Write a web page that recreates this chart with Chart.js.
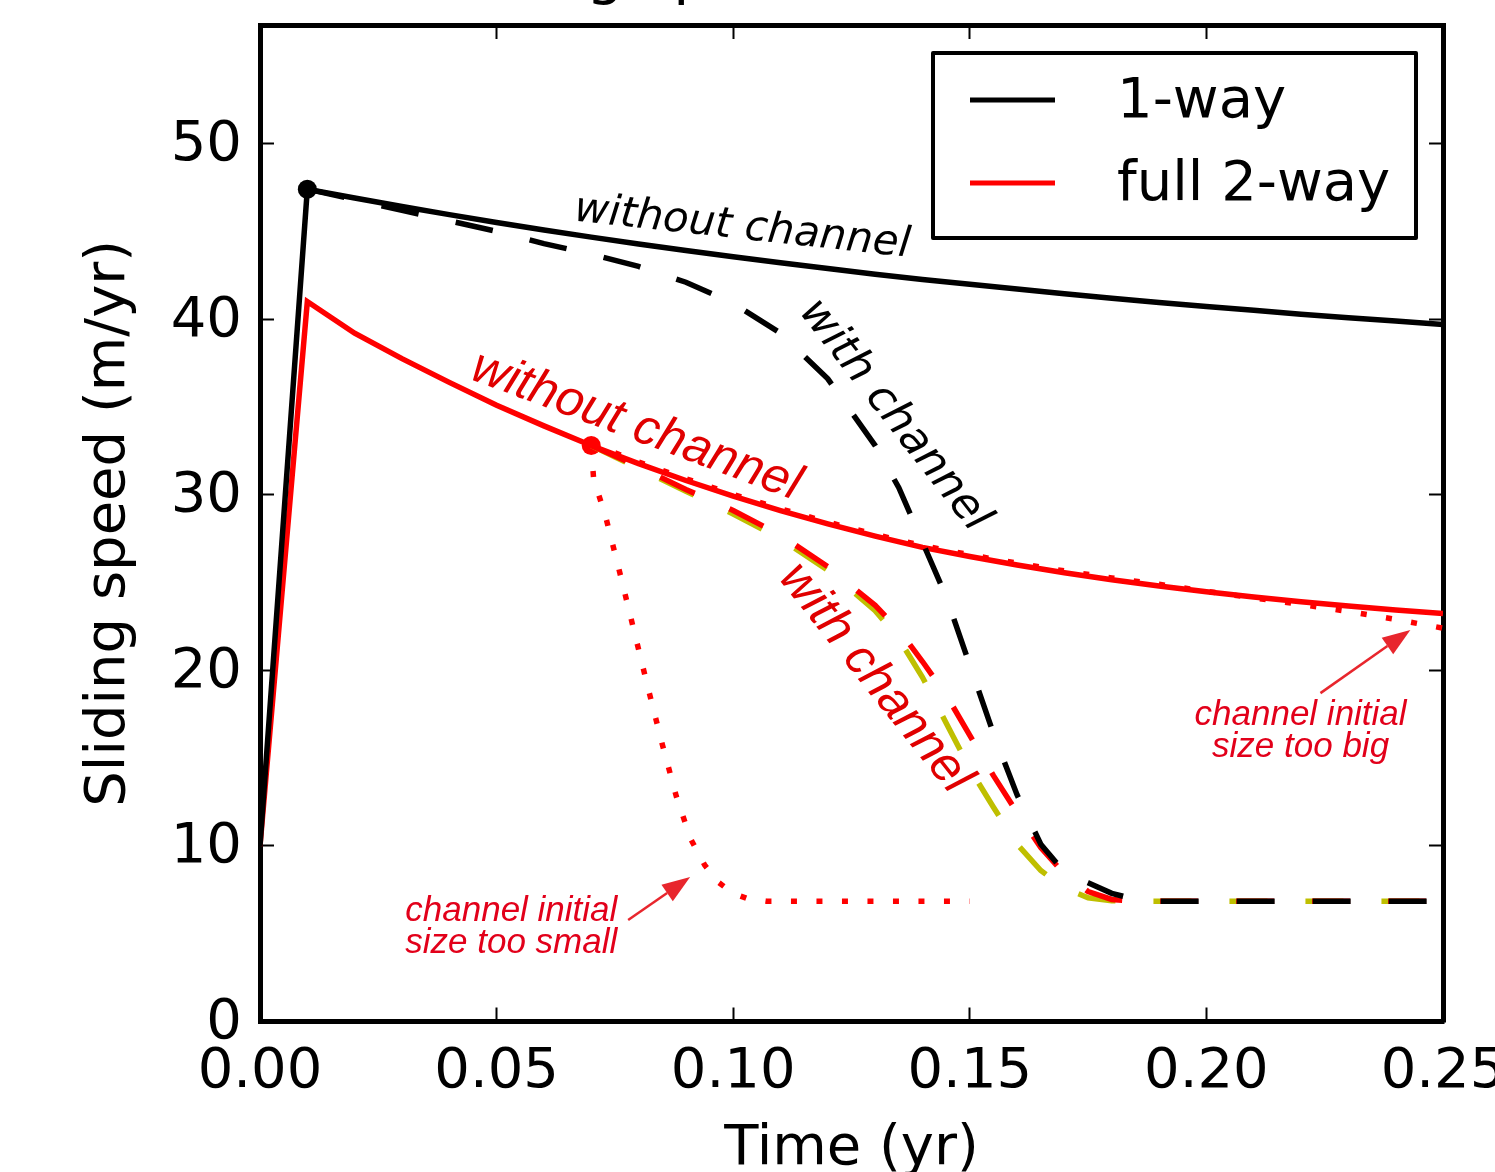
<!DOCTYPE html>
<html>
<head>
<meta charset="utf-8">
<title>Sliding speed</title>
<script src="https://cdn.jsdelivr.net/npm/chart.js@4.4.1/dist/chart.umd.min.js"></script>
<style>
    html, body { margin: 0; padding: 0; background: #fff; }
    canvas { display: block; }
</style>
</head>
<body>
<canvas id="speed-chart" width="1495" height="1172"></canvas>
<script>
// axis ticks
const xTicks = [0, 0.05, 0.10, 0.15, 0.20, 0.25];
const yTicks = [0, 10, 20, 30, 40, 50];

// 1-way, without channel (black solid)
const oneWayT = [0, 0.01, 0.02, 0.03, 0.04, 0.05, 0.06, 0.07, 0.08, 0.09, 0.10, 0.11, 0.12, 0.13, 0.14, 0.15, 0.16, 0.17, 0.18, 0.19, 0.20, 0.21, 0.22, 0.23, 0.24, 0.25];
const oneWayV = [10, 47.4, 46.9, 46.41, 45.95, 45.5, 45.08, 44.67, 44.28, 43.91, 43.55, 43.21, 42.88, 42.56, 42.26, 41.98, 41.71, 41.44, 41.19, 40.95, 40.72, 40.5, 40.28, 40.08, 39.89, 39.7];

// 1-way, with channel (black dashed)
const oneWayChT = [0.01, 0.02, 0.03, 0.04, 0.05, 0.06, 0.07, 0.08, 0.09, 0.10, 0.11, 0.12, 0.13, 0.135, 0.14, 0.145, 0.15, 0.155, 0.16, 0.165, 0.17, 0.175, 0.18, 0.185, 0.19, 0.25];
const oneWayChV = [47.4, 46.8, 46.2, 45.6, 45.0, 44.3, 43.7, 43.0, 42.1, 40.9, 39.2, 36.6, 32.8, 30.4, 27.3, 24.2, 20.3, 16.4, 12.9, 10.1, 8.5, 7.9, 7.3, 6.95, 6.85, 6.85];

// full 2-way, without channel (red solid)
const twoWayT = [0, 0.01, 0.02, 0.03, 0.04, 0.05, 0.06, 0.07, 0.08, 0.09, 0.10, 0.11, 0.12, 0.13, 0.14, 0.15, 0.16, 0.17, 0.18, 0.19, 0.20, 0.21, 0.22, 0.23, 0.24, 0.25];
const twoWayV = [10, 41.0, 39.2, 37.75, 36.4, 35.1, 33.92, 32.8, 31.77, 30.81, 29.92, 29.1, 28.34, 27.64, 27.0, 26.48, 26.0, 25.56, 25.16, 24.8, 24.47, 24.17, 23.9, 23.66, 23.44, 23.24];

// full 2-way, with channel (red dashed + yellow dashed)
const twoWayChT = [0.07, 0.08, 0.09, 0.10, 0.11, 0.12, 0.13, 0.135, 0.14, 0.145, 0.15, 0.155, 0.16, 0.165, 0.17, 0.175, 0.18, 0.185, 0.25];
const twoWayChV = [32.8, 31.6, 30.3, 29.1, 27.7, 25.9, 23.7, 22.3, 20.5, 18.6, 16.3, 14.0, 11.9, 9.9, 8.4, 7.4, 6.95, 6.85, 6.85];
const twoWayChYV = [32.8, 31.5, 30.2, 28.9, 27.5, 25.7, 23.4, 21.8, 19.6, 17.0, 14.4, 12.2, 10.1, 8.6, 7.6, 7.05, 6.88, 6.85, 6.85];

// channel initial size too big (red dotted, upper)
const bigT = [0.07, 0.08, 0.09, 0.10, 0.11, 0.12, 0.13, 0.14, 0.15, 0.16, 0.17, 0.18, 0.19, 0.20, 0.21, 0.22, 0.23, 0.24, 0.25];
const bigV = [32.9, 31.87, 30.91, 30.02, 29.2, 28.44, 27.74, 27.1, 26.58, 26.1, 25.66, 25.26, 24.9, 24.5, 24.12, 23.75, 23.35, 22.9, 22.4];

// channel initial size too small (red dotted, lower)
const smallT = [0.07, 0.0705, 0.073, 0.076, 0.079, 0.082, 0.085, 0.088, 0.091, 0.094, 0.097, 0.10, 0.103, 0.107, 0.15];
const smallV = [32.8, 30.9, 28.8, 25.6, 22.3, 19.0, 15.8, 12.8, 10.4, 8.9, 7.9, 7.3, 7.0, 6.85, 6.85];

// marked points
const oneWayDot = [0.01, 47.4];
const twoWayDot = [0.07, 32.8];

const zip = (ts, vs) => ts.map((t, i) => ({ x: t, y: vs[i] }));

const RED = '#ff0000';
const YELLOW = '#bfbf00';
const NOTE_RED = '#e2001a';
const ARROW_RED = '#e8262d';

// free text on the plot, placed in data units
const notes = [
    { lines: ['without channel'], t: 0.1019, v: 45.2, angle: 6.2, font: "italic 42px 'DejaVu Sans'", color: '#000', align: 'center' },
    { lines: ['with channel'], t: 0.134, v: 34.5, angle: 52, font: "italic 44px 'DejaVu Sans'", color: '#000', align: 'center' },
    { lines: ['without channel'], t: 0.0795, v: 33.9, angle: 20.5, font: "italic 50px 'Liberation Sans'", color: '#e00000', align: 'center' },
    { lines: ['with channel'], t: 0.130, v: 19.55, angle: 51.5, font: "italic 50px 'Liberation Sans'", color: '#e00000', align: 'center' },
    { lines: ['channel initial', 'size too big'], t: 0.2199, v: 17.45, angle: 0, font: "italic 35px 'Liberation Sans'", color: NOTE_RED, align: 'center' },
    { lines: ['channel initial', 'size too small'], t: 0.0307, v: 6.27, angle: 0, font: "italic 35px 'Liberation Sans'", color: NOTE_RED, align: 'left' }
];
const arrows = [
    { from: [0.2241, 18.7], to: [0.2431, 22.3] },
    { from: [0.0778, 5.78], to: [0.0909, 8.23] }
];

const annotations = {
    id: 'annotations',
    afterDatasetsDraw(chart) {
        const { ctx, scales: { x, y }, chartArea } = chart;
        ctx.save();
        notes.forEach(n => {
            ctx.save();
            ctx.translate(x.getPixelForValue(n.t), y.getPixelForValue(n.v));
            ctx.rotate(n.angle * Math.PI / 180);
            ctx.font = n.font;
            ctx.fillStyle = n.color;
            ctx.textAlign = n.align;
            ctx.textBaseline = 'middle';
            n.lines.forEach((line, i) => ctx.fillText(line, 0, i * 32));
            ctx.restore();
        });
        arrows.forEach(a => {
            const x0 = x.getPixelForValue(a.from[0]), y0 = y.getPixelForValue(a.from[1]);
            const x1 = x.getPixelForValue(a.to[0]), y1 = y.getPixelForValue(a.to[1]);
            const ang = Math.atan2(y1 - y0, x1 - x0);
            const head = 28, half = 10;
            const bx = x1 - head * Math.cos(ang), by = y1 - head * Math.sin(ang);
            ctx.strokeStyle = ARROW_RED;
            ctx.fillStyle = ARROW_RED;
            ctx.lineWidth = 2.5;
            ctx.beginPath();
            ctx.moveTo(x0, y0);
            ctx.lineTo(bx, by);
            ctx.stroke();
            ctx.beginPath();
            ctx.moveTo(x1, y1);
            ctx.lineTo(bx + half * Math.sin(ang), by - half * Math.cos(ang));
            ctx.lineTo(bx - half * Math.sin(ang), by + half * Math.cos(ang));
            ctx.closePath();
            ctx.fill();
        });
        // figure title, almost entirely above the crop
        ctx.font = "59px 'DejaVu Sans'";
        ctx.fillStyle = '#000';
        ctx.textAlign = 'left';
        ctx.textBaseline = 'alphabetic';
        ctx.fillText(', sliding speed', chartArea.left + 134, chartArea.top - 32);
        ctx.restore();
    }
};

// framed legend in the upper right corner of the axes
const boxLegend = {
    id: 'boxLegend',
    afterDraw(chart) {
        const { ctx, chartArea } = chart;
        const items = chart.data.datasets.filter(d => d.label);
        const w = 483, h = 185;
        const x0 = chartArea.right - 27 - w, y0 = chartArea.top + 28;
        ctx.save();
        ctx.fillStyle = '#fff';
        ctx.fillRect(x0, y0, w, h);
        ctx.strokeStyle = '#000';
        ctx.lineWidth = 4;
        ctx.lineJoin = 'round';
        ctx.strokeRect(x0, y0, w, h);
        ctx.font = "56px 'DejaVu Sans'";
        ctx.textBaseline = 'middle';
        ctx.textAlign = 'left';
        items.forEach((d, i) => {
            const ly = y0 + 47 + i * 83;
            ctx.strokeStyle = d.borderColor;
            ctx.lineWidth = 5;
            ctx.beginPath();
            ctx.moveTo(x0 + 37, ly);
            ctx.lineTo(x0 + 122, ly);
            ctx.stroke();
            ctx.fillStyle = '#000';
            ctx.fillText(d.label, x0 + 184, ly + 2);
        });
        ctx.restore();
    }
};

const line = (label, data, color, dash) => ({
    label, data, borderColor: color, backgroundColor: color, borderWidth: 5.5,
    borderDash: dash, pointRadius: 0, tension: 0, fill: false
});
const dot = (p, color) => ({
    label: '', data: [{ x: p[0], y: p[1] }], showLine: false,
    pointRadius: 9.5, pointBackgroundColor: color, pointBorderWidth: 0
});

// first dataset is drawn on top
const datasets = [
    dot(oneWayDot, '#000'),
    line('', zip(oneWayChT, oneWayChV), '#000', [38, 38]),
    line('1-way', zip(oneWayT, oneWayV), '#000', []),
    line('', zip(twoWayChT, twoWayChV), RED, [38, 38]),
    line('full 2-way', zip(twoWayT, twoWayV), RED, []),
    line('', zip(bigT, bigV), RED, [6, 19.5]),
    line('', zip(twoWayChT, twoWayChYV), YELLOW, [38, 38]),
    line('', zip(smallT, smallV), RED, [6, 19.5]),
    dot(twoWayDot, RED)
];

const tickFont = { family: 'DejaVu Sans', size: 56 };
const frame = { color: '#000', width: 5 };
const innerTicks = { drawOnChartArea: false, drawTicks: true, tickLength: -14, tickWidth: 2, tickColor: '#000' };

new Chart(document.getElementById('speed-chart'), {
    type: 'line',
    data: { datasets },
    options: {
        responsive: false,
        animation: false,
        parsing: false,
        layout: { autoPadding: false, padding: { top: 25, right: 52, bottom: 0, left: 0 } },
        plugins: { legend: { display: false }, tooltip: { enabled: false }, title: { display: false } },
        scales: {
            x: {
                type: 'linear', position: 'bottom', min: 0, max: 0.25,
                afterBuildTicks: s => { s.ticks = xTicks.map(value => ({ value })); },
                afterFit: s => { s.height = 150.5; s.paddingLeft = 0; s.paddingRight = 0; },
                ticks: { font: tickFont, color: '#000', padding: 31, maxRotation: 0, autoSkip: false, callback: v => v.toFixed(2) },
                grid: innerTicks,
                border: frame,
                title: { display: true, text: 'Time (yr)', color: '#000', font: { family: 'DejaVu Sans', size: 56, lineHeight: 0.82 }, padding: { top: 0, bottom: 0 } }
            },
            y: {
                type: 'linear', position: 'left', min: 0, max: 56.75,
                afterBuildTicks: s => { s.ticks = yTicks.map(value => ({ value })); },
                afterFit: s => { s.width = 260; s.paddingTop = 0; s.paddingBottom = 0; },
                ticks: { font: tickFont, color: '#000', padding: 32, labelOffset: 2, callback: v => String(v) },
                grid: innerTicks,
                border: frame,
                title: { display: true, text: 'Sliding speed (m/yr)', color: '#000', font: { family: 'DejaVu Sans', size: 56, lineHeight: 1 }, padding: { top: 81, bottom: 0 } }
            },
            x2: {
                type: 'linear', position: 'top', min: 0, max: 0.25,
                afterBuildTicks: s => { s.ticks = xTicks.map(value => ({ value })); },
                afterFit: s => { s.height = 0; s.paddingLeft = 0; s.paddingRight = 0; },
                ticks: { display: false },
                grid: innerTicks,
                border: frame
            },
            y2: {
                type: 'linear', position: 'right', min: 0, max: 56.75,
                afterBuildTicks: s => { s.ticks = yTicks.map(value => ({ value })); },
                afterFit: s => { s.width = 0; s.paddingTop = 0; s.paddingBottom = 0; },
                ticks: { display: false },
                grid: innerTicks,
                border: frame
            }
        }
    },
    plugins: [annotations, boxLegend]
});
</script>
</body>
</html>
